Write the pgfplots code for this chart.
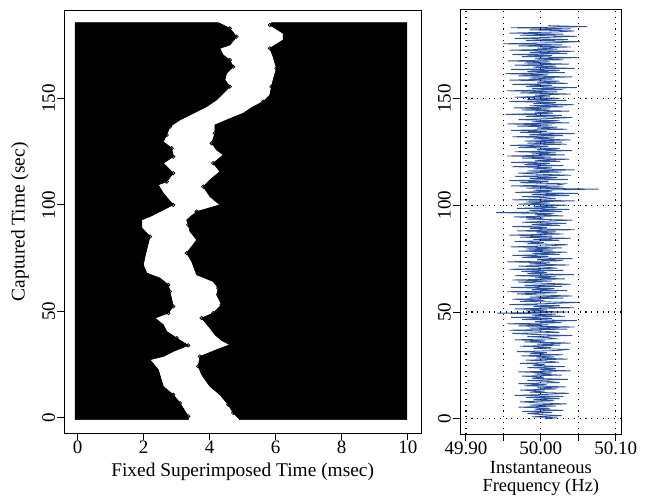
\documentclass[border=0pt]{standalone}
\usepackage{pgfplots}
\pgfplotsset{compat=1.18}
\usepackage{pgfplotstable}
\usepackage{fontspec}
\setmainfont{Liberation Serif}
\definecolor{freqblue}{RGB}{42,82,162}

\pgfplotstableread[row sep=\\]{
t f\\
0 50.005\\ 0.5 50.022\\ 1 49.988\\ 1.5 50.028\\ 2 50.002\\ 2.5 49.982\\ 3 50.015\\ 3.5 49.975\\ 4 50.030\\ 4.5 49.992\\
5 50.012\\ 5.5 49.970\\ 6 50.020\\ 6.5 49.985\\ 7 50.035\\ 7.5 49.995\\ 8 49.972\\ 8.5 50.018\\ 9 49.990\\ 9.5 50.025\\
10 49.980\\ 10.5 50.030\\ 11 49.965\\ 11.5 50.010\\ 12 50.038\\ 12.5 49.985\\ 13 50.005\\ 13.5 49.972\\ 14 50.022\\ 14.5 49.995\\
15 50.033\\ 15.5 49.978\\ 16 50.008\\ 16.5 49.970\\ 17 50.025\\ 17.5 50.012\\ 18 49.982\\ 18.5 50.036\\ 19 49.988\\ 19.5 50.004\\
20 49.975\\ 20.5 50.028\\ 21 49.992\\ 21.5 50.015\\ 22 49.970\\ 22.5 50.040\\ 23 49.998\\ 23.5 50.020\\ 24 49.982\\ 24.5 50.032\\
25 49.990\\ 25.5 50.005\\ 26 49.972\\ 26.5 50.024\\ 27 50.010\\ 27.5 49.980\\ 28 50.036\\ 28.5 49.994\\ 29 50.018\\ 29.5 49.974\\
30 50.030\\ 30.5 49.985\\ 31 50.008\\ 31.5 49.968\\ 32 50.022\\ 32.5 50.038\\ 33 49.990\\ 33.5 50.014\\ 34 49.972\\ 34.5 50.026\\
35 49.995\\ 35.5 50.040\\ 36 49.978\\ 36.5 50.006\\ 37 49.965\\ 37.5 50.020\\ 38 50.012\\ 38.5 49.982\\ 39 50.042\\ 39.5 49.992\\
40 49.962\\ 40.5 50.025\\ 41 50.005\\ 41.5 49.958\\ 42 50.035\\ 42.5 49.985\\ 43 50.045\\ 43.5 49.970\\ 44 50.010\\ 44.5 49.955\\
45 50.028\\ 45.5 49.992\\ 46 50.048\\ 46.5 49.975\\ 47 50.015\\ 47.5 49.960\\ 48 50.032\\ 48.5 49.988\\ 49 50.020\\ 49.5 49.942\\
50 50.038\\ 50.5 49.980\\ 51 50.008\\ 51.5 49.965\\ 52 50.045\\ 52.5 49.990\\ 53 50.025\\ 53.5 49.958\\ 54 50.015\\ 54.5 50.052\\
55 49.972\\ 55.5 50.005\\ 56 49.962\\ 56.5 50.030\\ 57 49.985\\ 57.5 50.042\\ 58 49.995\\ 58.5 49.968\\ 59 50.022\\ 59.5 49.955\\
60 50.035\\ 60.5 49.988\\ 61 50.018\\ 61.5 49.960\\ 62 50.028\\ 62.5 49.978\\ 63 50.040\\ 63.5 50.002\\ 64 49.970\\ 64.5 50.015\\
65 49.962\\ 65.5 50.032\\ 66 49.992\\ 66.5 50.020\\ 67 49.965\\ 67.5 50.044\\ 68 49.982\\ 68.5 50.008\\ 69 49.974\\ 69.5 50.030\\
70 49.958\\ 70.5 50.022\\ 71 50.005\\ 71.5 49.970\\ 72 50.038\\ 72.5 49.985\\ 73 50.012\\ 73.5 49.955\\ 74 50.030\\ 74.5 49.995\\
75 50.042\\ 75.5 49.975\\ 76 50.010\\ 76.5 49.962\\ 77 50.026\\ 77.5 49.988\\ 78 50.035\\ 78.5 49.970\\ 79 50.016\\ 79.5 49.980\\
80 50.028\\ 80.5 49.960\\ 81 50.012\\ 81.5 50.036\\ 82 49.982\\ 82.5 50.004\\ 83 49.965\\ 83.5 50.024\\ 84 49.990\\ 84.5 50.040\\
85 49.972\\ 85.5 50.015\\ 86 49.958\\ 86.5 50.030\\ 87 49.994\\ 87.5 50.020\\ 88 49.968\\ 88.5 50.045\\ 89 49.985\\ 89.5 50.008\\
90 49.962\\ 90.5 50.026\\ 91 49.988\\ 91.5 50.034\\ 92 49.975\\ 92.5 50.010\\ 93 50.042\\ 93.5 49.980\\ 94 50.005\\ 94.5 49.964\\
95 50.030\\ 95.5 49.992\\ 96 50.018\\ 96.5 49.940\\ 97 50.028\\ 97.5 49.985\\ 98 50.038\\ 98.5 49.968\\ 99 50.022\\ 99.5 49.990\\
100 50.035\\ 100.5 49.970\\ 101 50.012\\ 101.5 49.980\\ 102 50.045\\ 102.5 49.962\\ 103 50.020\\ 103.5 50.008\\ 104 49.975\\ 104.5 50.038\\
105 49.988\\ 105.5 50.050\\ 106 49.965\\ 106.5 50.015\\ 107 49.990\\ 107.5 50.077\\ 108 49.980\\ 108.5 50.030\\ 109 49.960\\ 109.5 50.025\\
110 50.032\\ 110.5 49.972\\ 111 50.010\\ 111.5 49.958\\ 112 50.036\\ 112.5 49.985\\ 113 50.022\\ 113.5 49.965\\ 114 50.040\\ 114.5 49.995\\
115 49.970\\ 115.5 50.028\\ 116 49.982\\ 116.5 50.045\\ 117 49.990\\ 117.5 50.015\\ 118 49.962\\ 118.5 50.030\\ 119 49.978\\ 119.5 50.012\\
120 49.960\\ 120.5 50.026\\ 121 49.992\\ 121.5 50.038\\ 122 49.975\\ 122.5 50.014\\ 123 49.955\\ 123.5 50.032\\ 124 49.988\\ 124.5 50.020\\
125 49.965\\ 125.5 50.042\\ 126 49.995\\ 126.5 50.025\\ 127 49.970\\ 127.5 50.010\\ 128 49.958\\ 128.5 50.035\\ 129 49.982\\ 129.5 50.028\\
130 49.978\\ 130.5 50.040\\ 131 49.990\\ 131.5 50.018\\ 132 49.962\\ 132.5 50.030\\ 133 49.985\\ 133.5 50.045\\ 134 49.972\\ 134.5 50.008\\
135 49.960\\ 135.5 50.035\\ 136 49.995\\ 136.5 50.022\\ 137 49.968\\ 137.5 50.015\\ 138 49.955\\ 138.5 50.038\\ 139 49.988\\ 139.5 50.025\\
140 49.970\\ 140.5 50.010\\ 141 50.042\\ 141.5 49.980\\ 142 50.028\\ 142.5 49.952\\ 143 50.016\\ 143.5 49.992\\ 144 50.038\\ 144.5 49.975\\
145 50.012\\ 145.5 49.964\\ 146 50.030\\ 146.5 49.985\\ 147 50.044\\ 147.5 49.990\\ 148 50.020\\ 148.5 49.958\\ 149 50.034\\ 149.5 49.982\\
150 50.026\\ 150.5 49.965\\ 151 50.012\\ 151.5 49.992\\ 152 50.040\\ 152.5 49.972\\ 153 50.022\\ 153.5 49.955\\ 154 50.030\\ 154.5 49.988\\
155 50.048\\ 155.5 49.980\\ 156 50.015\\ 156.5 49.962\\ 157 50.036\\ 157.5 49.995\\ 158 50.025\\ 158.5 49.958\\ 159 50.018\\ 159.5 49.985\\
160 50.042\\ 160.5 49.970\\ 161 50.010\\ 161.5 49.952\\ 162 50.032\\ 162.5 49.982\\ 163 50.025\\ 163.5 49.960\\ 164 50.045\\ 164.5 49.990\\
165 50.020\\ 165.5 49.965\\ 166 50.038\\ 166.5 49.978\\ 167 50.012\\ 167.5 49.956\\ 168 50.030\\ 168.5 49.992\\ 169 50.050\\ 169.5 49.975\\
170 50.015\\ 170.5 49.962\\ 171 50.035\\ 171.5 49.985\\ 172 50.045\\ 172.5 49.958\\ 173 50.022\\ 173.5 49.995\\ 174 50.040\\ 174.5 49.970\\
175 50.028\\ 175.5 49.950\\ 176 50.018\\ 176.5 50.052\\ 177 49.980\\ 177.5 50.036\\ 178 49.965\\ 178.5 50.010\\ 179 50.048\\ 179.5 49.972\\
180 50.030\\ 180.5 49.958\\ 181 50.020\\ 181.5 50.045\\ 182 49.985\\ 182.5 50.040\\ 183 49.960\\ 183.5 50.062\\ 184 50.010\\
}\freqdata

\newcommand{\labfont}{\fontsize{19.4}{22}\selectfont}
\newcommand{\twolinefont}{\fontsize{18.5}{17.6}\selectfont}
\begin{document}
\begin{tikzpicture}
\useasboundingbox (-64.3pt,-62.7pt) rectangle (589.7pt,433.3pt);
\pgfplotsset{
  rstyle/.style={
    scale only axis,
    axis line style={line width=1pt},
    tick align=outside,
    xtick pos=bottom, ytick pos=left,
    major tick length=7pt,
    every tick/.style={black, line width=1pt},
    tick label style={font=\fontsize{19}{22}\selectfont},
    /pgf/number format/assume math mode=true,
    yticklabel style={rotate=90, anchor=south, inner sep=2pt},
    xticklabel style={inner sep=0.5pt},
    every axis y label/.style={at={(axis description cs:-0.124,0.5)}, rotate=90, anchor=center, font=\labfont},
  }
}
\begin{axis}[rstyle, at={(0pt,0pt)}, anchor=south west,
  width=356.7pt, height=423pt,
  xmin=-0.4, xmax=10.4, ymin=-7.2, ymax=191.3,
  xtick={0,2,4,6,8,10}, ytick={0,50,100,150},
  xlabel={Fixed Superimposed Time (msec)},
  ylabel={Captured Time (sec)},
  every axis x label/.style={at={(axis description cs:0.5,0)}, anchor=base, yshift=-42.7pt, font=\labfont},
]
% left black region
\addplot[fill=black, draw=black, line width=0.6pt] coordinates {
(-0.07,-0.8) (3.353,-0.8) (3.353,0.75) (3.103,7.03) (2.900,10.92) (2.598,14.81)
(2.447,22.64) (2.196,27.33) (2.598,28.88) (2.900,31.22) (3.353,34.04) (3.003,37.51)
(2.701,40.60) (2.598,43.74) (2.347,46.88) (2.749,49.23) (2.900,52.32) (2.801,59.35)
(2.749,62.49) (2.498,65.64) (2.097,67.98) (1.994,71.87) (2.045,75.76) (2.196,85.14)
(1.946,89.22) (1.946,92.97) (2.196,94.51) (2.498,96.86) (2.900,100.00) (2.598,105.49)
(2.447,109.38) (2.701,110.92) (2.900,114.86) (2.598,119.55) (2.900,122.64) (2.852,126.58)
(2.598,129.68) (2.701,132.82) (2.801,136.71) (3.103,139.85) (3.607,143.74) (3.909,146.09)
(4.211,149.23) (4.462,153.12) (4.613,155.46) (4.462,158.60) (4.514,161.74) (4.713,164.84)
(4.613,167.98) (4.411,170.33) (4.311,173.46) (4.613,175.01) (4.816,178.90) (4.613,182.84)
(4.311,185.19) (4.25,185.5) (-0.07,185.5) (-0.07,-0.8)
};
% right black region
\addplot[fill=black, draw=black, line width=0.6pt] coordinates {
(9.97,-0.8) (4.915,-0.8) (4.713,2.34) (4.562,6.24) (4.311,10.92) (4.009,14.81)
(3.758,20.30) (3.656,24.19) (3.707,28.88) (4.211,32.02) (4.613,34.37) (4.372,36.24)
(4.160,39.05) (4.009,42.19) (3.758,46.88) (4.109,49.23) (4.363,53.12) (4.211,57.81)
(4.260,60.95) (4.109,64.04) (3.607,67.18) (3.456,73.42) (3.305,77.36) (3.607,83.59)
(3.405,87.48) (3.353,90.62) (3.305,92.97) (3.607,96.86) (4.311,100.00) (4.009,103.89)
(3.807,108.58) (4.009,111.72) (4.311,115.61) (4.109,119.55) (4.411,123.44) (4.211,125.79)
(4.060,128.93) (4.160,133.61) (4.160,137.51) (4.514,139.85) (5.015,142.99) (5.317,146.08)
(5.619,148.43) (5.822,151.57) (5.873,155.46) (5.921,158.60) (6.024,164.09) (5.921,169.53)
(5.822,173.46) (6.224,177.36) (6.224,180.50) (5.822,184.39) (5.88,185.5) (9.97,185.5) (9.97,-0.8)
};
% open circles on the edges
\addplot[only marks, mark=o, mark size=1.7pt, mark options={line width=0.7pt}] coordinates {
(3.353,0.75) (3.103,7.03) (2.900,10.92) (3.353,34.04) (3.003,37.51) (2.749,49.23) (2.900,52.32)
(2.801,59.35) (2.749,62.49) (2.196,85.14) (2.900,100.00) (2.701,110.92) (2.900,114.86)
(2.900,122.64) (2.852,126.58) (2.701,132.82) (2.801,136.71) (4.613,155.46) (4.713,164.84)
(4.613,167.98) (4.816,178.90) (4.613,182.84)
(4.713,2.34) (4.562,6.24) (3.656,24.19) (3.707,28.88) (3.758,46.88) (4.109,49.23) (4.363,53.12)
(4.260,60.95) (3.305,77.36) (3.353,90.62) (3.607,96.86) (3.807,108.58) (4.109,119.55)
(4.060,128.93) (4.160,133.61) (5.619,148.43) (5.873,155.46) (6.024,164.09) (5.822,173.46)
(5.822,184.39)
};
\end{axis}

\begin{axis}[rstyle, at={(395.7pt,-1pt)}, anchor=south west,
  width=161.7pt, height=424.3pt,
  xmin=49.892, xmax=50.108, ymin=-7.2, ymax=191.3,
  xtick={49.9,49.95,50,50.05,50.1},
  xticklabels={49.90,,50.00,,50.10},
  ytick={0,50,100,150},
  grid=major,
  grid style={black, line width=1.1pt, dash pattern=on 1.1pt off 4.6pt},
  axis on top,
  xlabel={Instantaneous\\Frequency (Hz)},
  every axis x label/.style={at={(axis description cs:0.5,0)}, anchor=north, align=center, inner sep=0pt, yshift=-27.2pt, font=\twolinefont},
]
\addplot[freqblue, line width=0.8pt] table[x=f, y=t] {\freqdata};
\end{axis}
\end{tikzpicture}
\end{document}
